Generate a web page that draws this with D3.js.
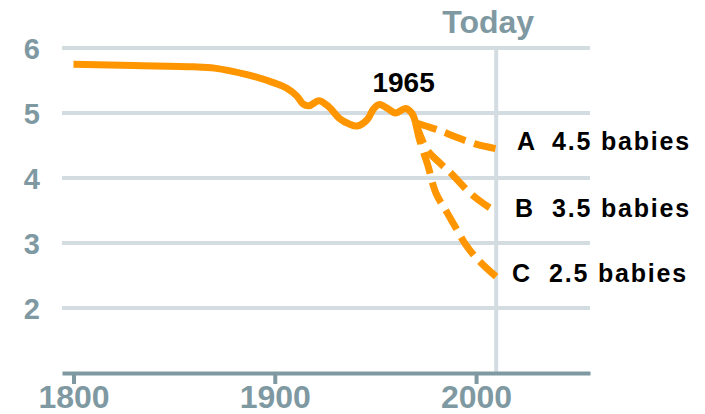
<!DOCTYPE html>
<html>
<head>
<meta charset="utf-8">
<script src="https://cdnjs.cloudflare.com/ajax/libs/d3/7.8.5/d3.min.js"></script>
<style>
  html, body { margin: 0; padding: 0; background: #ffffff; }
  svg { display: block; }
  text { font-family: "Liberation Sans", Arial, sans-serif; font-weight: bold; }
</style>
</head>
<body>
<svg id="chart" width="705" height="414"></svg>
<script>
// ---- data ----
const yTicks = [2, 3, 4, 5, 6];
const xTicks = [1800, 1900, 2000];
const todayYear = 2010;
const peakLabel = "1965";
const peakYear = 1965;

const historyYears  = [1800, 1830, 1860, 1870, 1879, 1890, 1900, 1906, 1911, 1914, 1917, 1922, 1927, 1932, 1937, 1941, 1946, 1949, 1952, 1956, 1960, 1965, 1968, 1970];
const historyValues = [5.75, 5.73, 5.71, 5.69, 5.64, 5.56, 5.46, 5.38, 5.26, 5.14, 5.11, 5.19, 5.09, 4.92, 4.83, 4.80, 4.90, 5.06, 5.13, 5.07, 5.00, 5.07, 5.00, 4.85];

const scenarioNames  = ["A", "B", "C"];
const scenarioLabels = ["4.5 babies", "3.5 babies", "2.5 babies"];
const scenarioAYears  = [1970, 1975, 1982, 1990, 2000, 2010];
const scenarioAValues = [4.85, 4.80, 4.73, 4.63, 4.52, 4.45];
const scenarioBYears  = [1970, 1973, 1976, 1982, 1987, 1997, 2004, 2010];
const scenarioBValues = [4.85, 4.60, 4.42, 4.23, 4.09, 3.77, 3.60, 3.48];
const scenarioCYears  = [1970, 1972, 1976, 1980, 1985, 1990, 1995, 2001, 2010];
const scenarioCValues = [4.85, 4.58, 4.20, 3.77, 3.50, 3.23, 2.97, 2.74, 2.48];

// ---- styles ----
const orange = "#ff9600";
const gridColor = "#d3dce0";
const axisColor = "#7f99a2";

const svg = d3.select("#chart");
const x = d3.scaleLinear().domain([1794.3, 2056.6]).range([62, 590]);
const y = d3.scaleLinear().domain([1, 6]).range([373, 48]);

// gridlines
svg.append("g").selectAll("line").data(yTicks).join("line")
  .attr("x1", x.range()[0]).attr("x2", x.range()[1])
  .attr("y1", d => y(d)).attr("y2", d => y(d))
  .attr("stroke", gridColor).attr("stroke-width", 4);

// today line
svg.append("line")
  .attr("x1", x(todayYear)).attr("x2", x(todayYear))
  .attr("y1", y(6) - 2).attr("y2", y(1))
  .attr("stroke", gridColor).attr("stroke-width", 4);

svg.append("text")
  .attr("x", x(todayYear) - 8).attr("y", 33)
  .attr("text-anchor", "middle")
  .attr("font-size", 32).attr("fill", axisColor)
  .text("Today");

// y axis labels
const yAxis = svg.append("g").attr("transform", "translate(40,0)")
  .call(d3.axisLeft(y).tickValues(yTicks).tickSize(0).tickPadding(0).tickFormat(d3.format("d")));
yAxis.select(".domain").remove();
yAxis.selectAll("text")
  .attr("font-size", 29).attr("fill", axisColor)
  .attr("font-family", "Liberation Sans, Arial, sans-serif").attr("font-weight", "bold")
  .attr("dy", "0.36em");

// x axis
const xAxis = svg.append("g").attr("transform", `translate(0,${y(1)})`)
  .call(d3.axisBottom(x).tickValues(xTicks).tickSizeOuter(0).tickSizeInner(11).tickFormat(d3.format("d")));
xAxis.select(".domain").attr("stroke", axisColor).attr("stroke-width", 4);
xAxis.selectAll(".tick line").attr("stroke", axisColor).attr("stroke-width", 4);
xAxis.selectAll("text")
  .attr("font-size", 32).attr("fill", axisColor)
  .attr("font-family", "Liberation Sans, Arial, sans-serif").attr("font-weight", "bold")
  .attr("y", 35).attr("dy", 0);

// lines
const line = d3.line().x(d => x(d[0])).y(d => y(d[1])).curve(d3.curveCatmullRom.alpha(0.5));
const history = historyYears.map((yr, i) => [yr, historyValues[i]]);
const scenarios = [
  scenarioAYears.map((yr, i) => [yr, scenarioAValues[i]]),
  scenarioBYears.map((yr, i) => [yr, scenarioBValues[i]]),
  scenarioCYears.map((yr, i) => [yr, scenarioCValues[i]])
];

svg.append("g").selectAll("path").data(scenarios).join("path")
  .attr("d", line)
  .attr("fill", "none").attr("stroke", orange).attr("stroke-width", 7)
  .attr("stroke-dasharray", "22,9");

svg.append("path").datum(history)
  .attr("d", line)
  .attr("fill", "none").attr("stroke", orange).attr("stroke-width", 7)
  .attr("stroke-linejoin", "round");

// 1965 label
svg.append("text")
  .attr("x", x(peakYear) - 2).attr("y", 92)
  .attr("text-anchor", "middle")
  .attr("font-size", 28).attr("fill", "#000")
  .text(peakLabel);

// scenario labels
const letterX = [517, 515, 512];
const labelX = [552, 552, 549];
const baseY = [150, 217, 282];
scenarioNames.forEach((n, i) => {
  svg.append("text").attr("x", letterX[i]).attr("y", baseY[i])
    .attr("font-size", 25).attr("fill", "#000").text(n);
  svg.append("text").attr("x", labelX[i]).attr("y", baseY[i])
    .attr("font-size", 25).attr("fill", "#000").attr("letter-spacing", "1.8px")
    .text(scenarioLabels[i]);
});
</script>
</body>
</html>
